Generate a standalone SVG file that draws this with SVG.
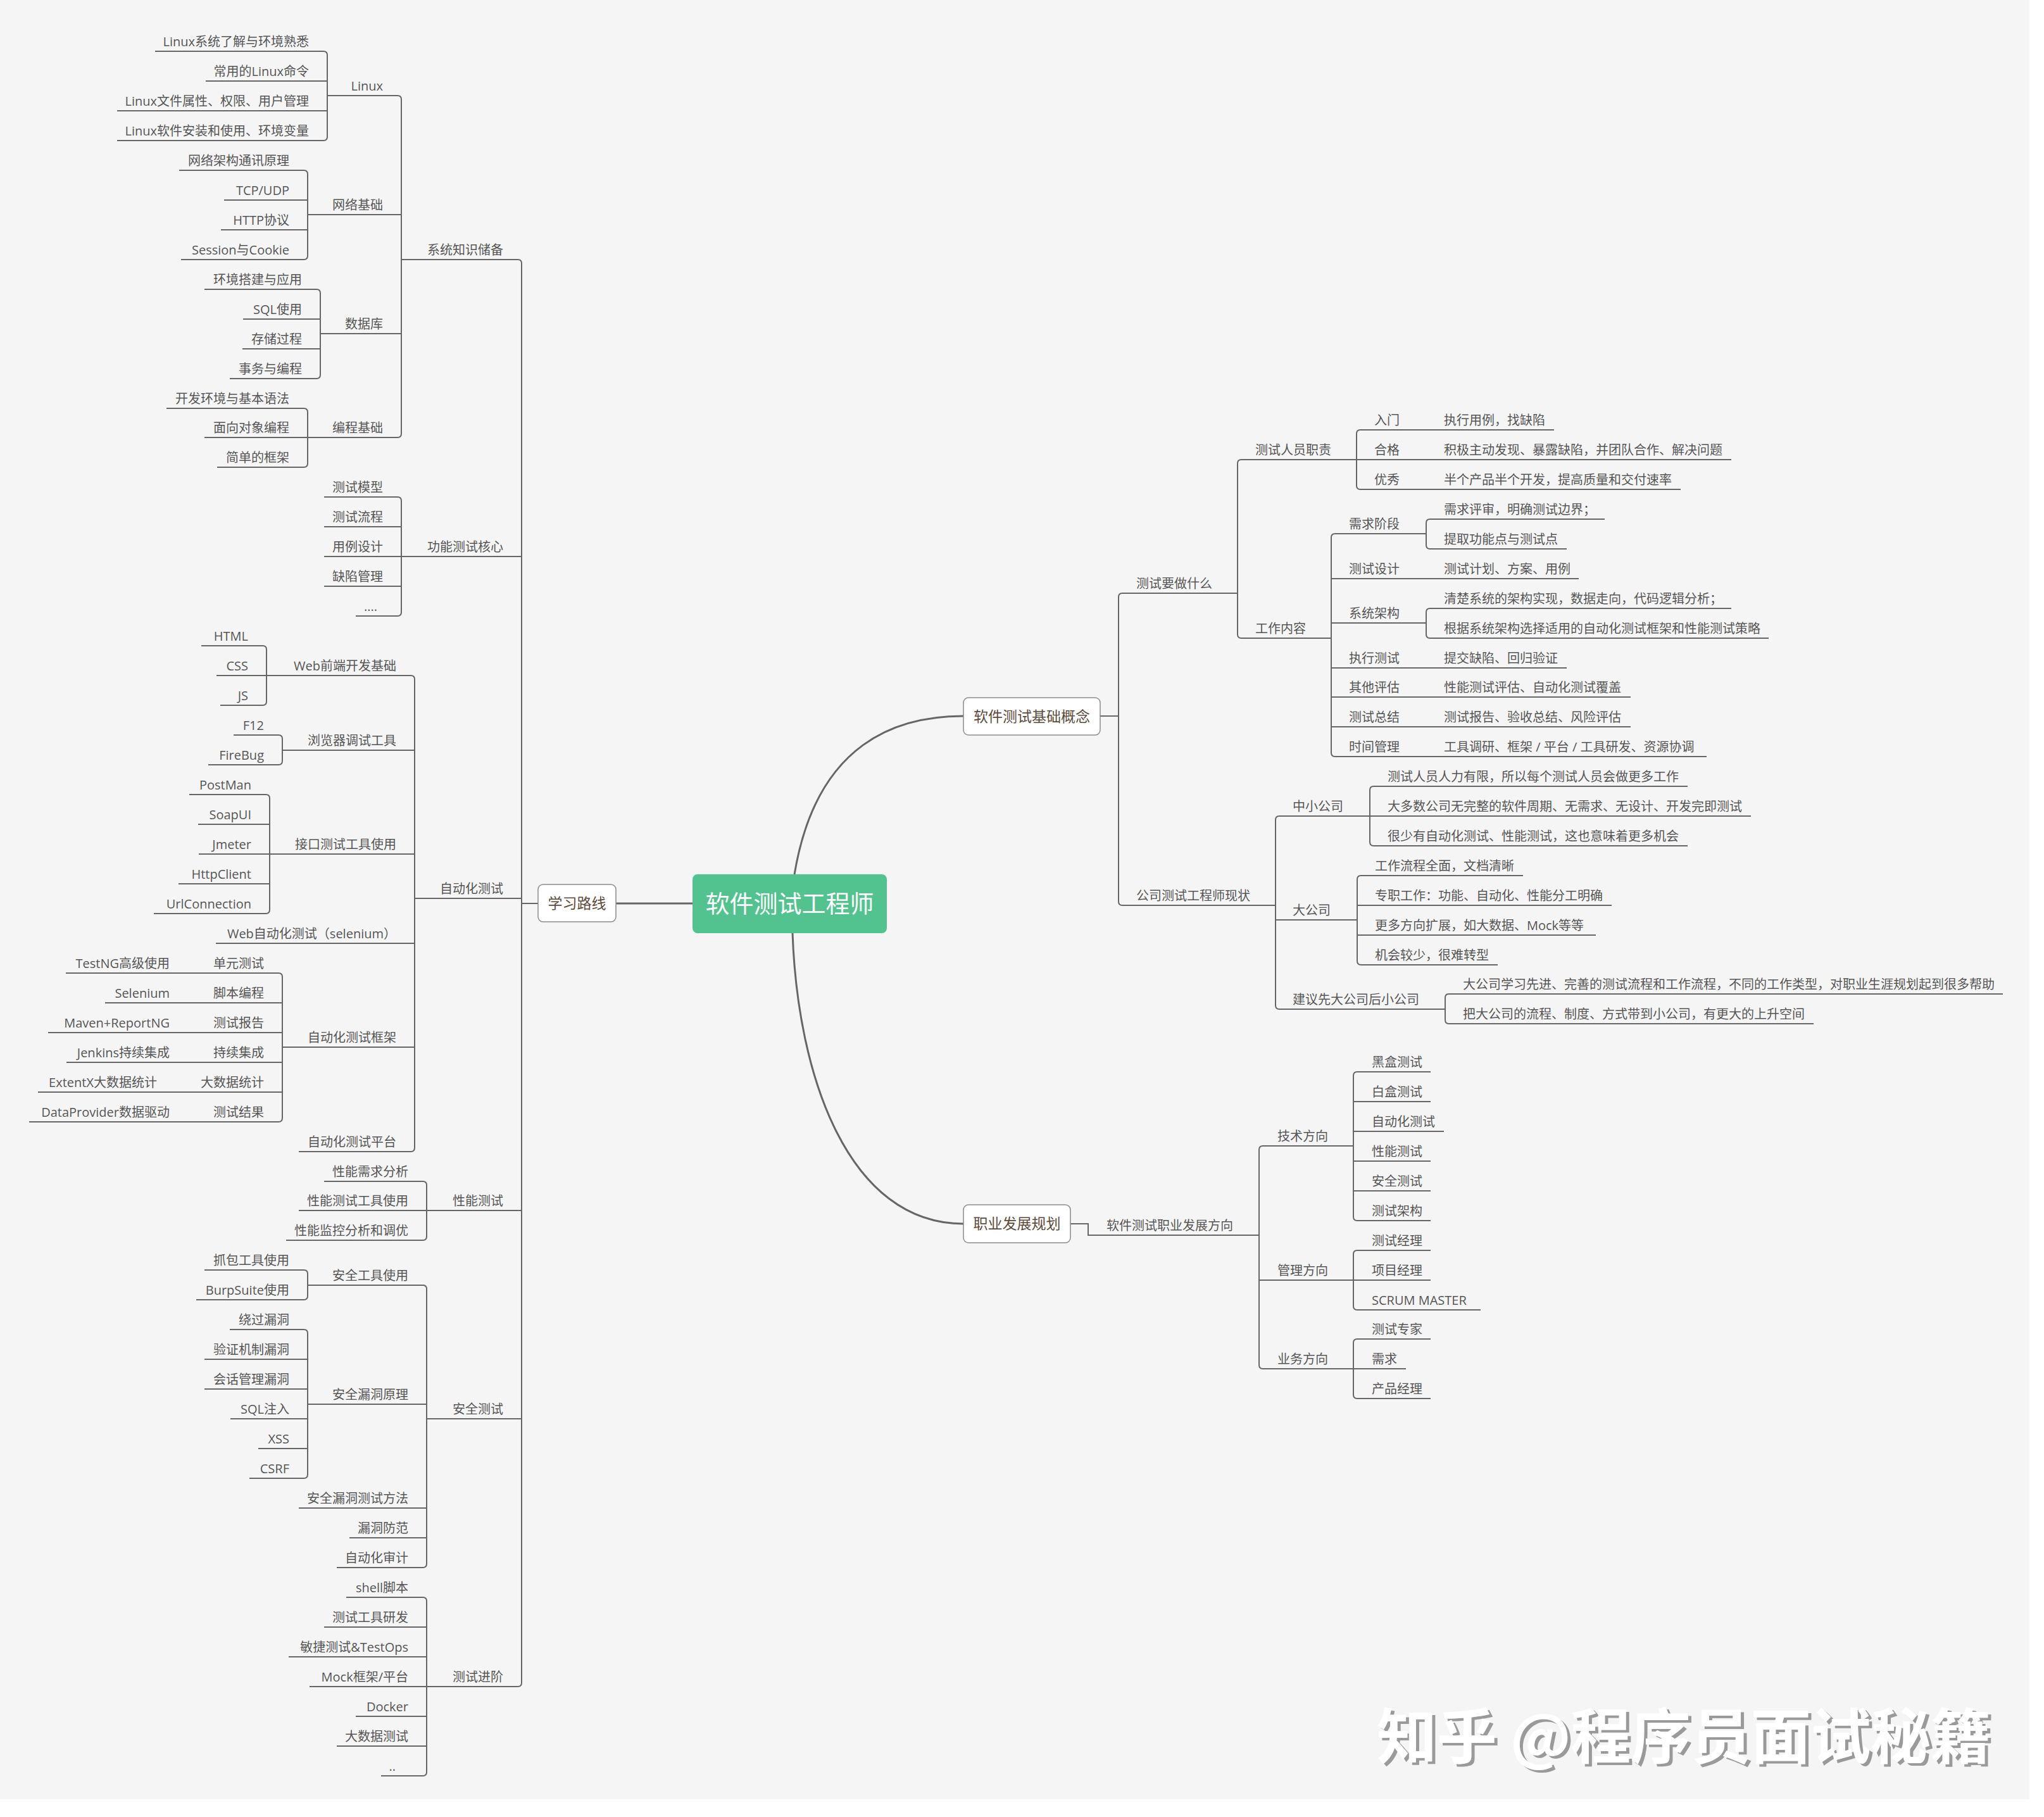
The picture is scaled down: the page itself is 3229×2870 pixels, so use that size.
<svg xmlns="http://www.w3.org/2000/svg" width="3229" height="2870" viewBox="0 0 3229 2870">
<defs>
<style>
.ln{fill:none;stroke:#666;stroke-width:2}
.thick{fill:none;stroke:#666;stroke-width:3}
.t{font-family:"Open Sans","Noto Sans CJK SC",sans-serif;font-size:20px;fill:#555}
.l{text-anchor:end}
.box{fill:#fff;stroke:#8c8c8c;stroke-width:1.5}
.mt{font-family:"Noto Sans CJK SC",sans-serif;font-size:23px;fill:#5e4b3c;text-anchor:middle}
</style>
<filter id="sh" x="-5%" y="-20%" width="110%" height="140%">
<feDropShadow dx="5" dy="4" stdDeviation="0.5" flood-color="#9a9a9a" flood-opacity="1"/>
</filter>
</defs>
<rect x="0" y="0" width="3229" height="2870" fill="#ffffff"/>
<rect x="0" y="0" width="3206" height="2842" fill="#f5f5f5"/>

<g id="connectors">
<path class="ln" d="M245,81H511Q517,81 517,87V216Q517,222 511,222H185M325,128H517M185,175H517"/>
<path class="ln" d="M283,269H480Q486,269 486,275V404Q486,410 480,410H286M354,316H486M349,363H486"/>
<path class="ln" d="M323,457H500Q506,457 506,463V592Q506,598 500,598H363M384,504H506M383,551H506"/>
<path class="ln" d="M263,645H480Q486,645 486,651V732Q486,738 480,738H343M323,691H486"/>
<path class="ln" d="M517,151H628Q634,151 634,157V685Q634,691 628,691H486M486,339H634M506,527H634"/>
<path class="ln" d="M512,785H628Q634,785 634,791V967Q634,973 628,973H562M512,832H634M512,879H634M512,926H634"/>
<path class="ln" d="M318,1020H415Q421,1020 421,1026V1108Q421,1114 415,1114H348M342,1067H421"/>
<path class="ln" d="M369,1161H440Q446,1161 446,1167V1202Q446,1208 440,1208H329"/>
<path class="ln" d="M299,1255H420Q426,1255 426,1261V1437Q426,1443 420,1443H243M313,1302H426M314,1349H426M282,1396H426"/>
<path class="ln" d="M104,1537H440Q446,1537 446,1543V1766Q446,1772 440,1772H46M166,1584H446M76,1631H446M105,1678H446M60,1725H446"/>
<path class="ln" d="M421,1067H649Q655,1067 655,1073V1813Q655,1819 649,1819H472M446,1185H655M426,1349H655M341,1490H655M446,1654H655"/>
<path class="ln" d="M512,1866H668Q674,1866 674,1872V1953Q674,1959 668,1959H452M472,1912H674"/>
<path class="ln" d="M323,2006H480Q486,2006 486,2012V2047Q486,2053 480,2053H310"/>
<path class="ln" d="M363,2100H480Q486,2100 486,2106V2329Q486,2335 480,2335H394M323,2147H486M323,2194H486M364,2241H486M408,2288H486"/>
<path class="ln" d="M486,2030H668Q674,2030 674,2036V2470Q674,2476 668,2476H532M486,2218H674M472,2382H674M552,2429H674"/>
<path class="ln" d="M547,2523H668Q674,2523 674,2529V2799Q674,2805 668,2805H602M512,2570H674M456,2617H674M489,2664H674M562,2711H674M532,2758H674"/>
<path class="ln" d="M634,410H818Q824,410 824,416V2658Q824,2664 818,2664H674M634,879H824M655,1419H824M674,1912H824M674,2241H824M824,1427H850"/>
<path class="thick" d="M973,1427H1094"/>
<path class="thick" d="M1255,1381C1290,1170 1420,1131 1522,1131"/>
<path class="thick" d="M1252,1474C1260,1700 1340,1933 1522,1933"/>
<path class="ln" d="M1738,1131H1767M1955,937H1773Q1767,937 1767,943V1424Q1767,1430 1773,1430H2015"/>
<path class="ln" d="M2143,726H1961Q1955,726 1955,732V1002Q1955,1008 1961,1008H2103"/>
<path class="ln" d="M2455,679H2149Q2143,679 2143,685V767Q2143,773 2149,773H2655M2143,726H2735"/>
<path class="ln" d="M2253,843H2109Q2103,843 2103,849V1189Q2103,1195 2109,1195H2696M2103,914H2494M2103,984H2253M2103,1055H2475M2103,1101H2576M2103,1148H2576"/>
<path class="ln" d="M2535,820H2259Q2253,820 2253,826V861Q2253,867 2259,867H2475"/>
<path class="ln" d="M2735,961H2259Q2253,961 2253,967V1002Q2253,1008 2259,1008H2794"/>
<path class="ln" d="M2164,1289H2021Q2015,1289 2015,1295V1588Q2015,1594 2021,1594H2283M2015,1453H2144"/>
<path class="ln" d="M2666,1242H2170Q2164,1242 2164,1248V1330Q2164,1336 2170,1336H2666M2164,1289H2766"/>
<path class="ln" d="M2406,1383H2150Q2144,1383 2144,1389V1518Q2144,1524 2150,1524H2366M2144,1430H2546M2144,1477H2521"/>
<path class="ln" d="M3164,1570H2289Q2283,1570 2283,1576V1611Q2283,1617 2289,1617H2865"/>
<path class="ln" d="M1691,1933H1719V1951H1989"/>
<path class="ln" d="M2138,1810H1995Q1989,1810 1989,1816V2156Q1989,2162 1995,2162H2138M1989,2022H2138"/>
<path class="ln" d="M2260,1693H2144Q2138,1693 2138,1699V1922Q2138,1928 2144,1928H2260M2138,1740H2260M2138,1787H2281M2138,1834H2260M2138,1881H2260"/>
<path class="ln" d="M2260,1975H2144Q2138,1975 2138,1981V2063Q2138,2069 2144,2069H2339M2138,2022H2260"/>
<path class="ln" d="M2260,2115H2144Q2138,2115 2138,2121V2203Q2138,2209 2144,2209H2260M2138,2162H2221"/>
</g>

<g id="center"><rect x="1094" y="1381" width="307" height="93" rx="8" fill="#52c38e"/><text x="1247.5" y="1441" font-family="Noto Sans CJK SC, sans-serif" font-size="38" fill="#ffffff" text-anchor="middle">软件测试工程师</text></g>
<g id="n-xuexi"><rect class="box" x="850" y="1397" width="123" height="59" rx="8"/><text class="mt" x="911.5" y="1435">学习路线</text></g>
<g id="n-gainian"><rect class="box" x="1522" y="1102" width="216" height="59" rx="8"/><text class="mt" x="1630" y="1140">软件测试基础概念</text></g>
<g id="n-zhiye"><rect class="box" x="1522" y="1903" width="169" height="60" rx="8"/><text class="mt" x="1606.5" y="1941">职业发展规划</text></g>

<g id="n-l1"><text class="t l" x="488" y="73">Linux系统了解与环境熟悉</text></g>
<g id="n-l2"><text class="t l" x="488" y="120">常用的Linux命令</text></g>
<g id="n-l3"><text class="t l" x="488" y="167">Linux文件属性、权限、用户管理</text></g>
<g id="n-l4"><text class="t l" x="488" y="214">Linux软件安装和使用、环境变量</text></g>
<g id="n-w1"><text class="t l" x="457" y="261">网络架构通讯原理</text></g>
<g id="n-w2"><text class="t l" x="457" y="308">TCP/UDP</text></g>
<g id="n-w3"><text class="t l" x="457" y="355">HTTP协议</text></g>
<g id="n-w4"><text class="t l" x="457" y="402">Session与Cookie</text></g>
<g id="n-d1"><text class="t l" x="477" y="449">环境搭建与应用</text></g>
<g id="n-d2"><text class="t l" x="477" y="496">SQL使用</text></g>
<g id="n-d3"><text class="t l" x="477" y="543">存储过程</text></g>
<g id="n-d4"><text class="t l" x="477" y="590">事务与编程</text></g>
<g id="n-b1"><text class="t l" x="457" y="637">开发环境与基本语法</text></g>
<g id="n-b2"><text class="t l" x="457" y="683">面向对象编程</text></g>
<g id="n-b3"><text class="t l" x="457" y="730">简单的框架</text></g>
<g id="n-linux"><text class="t l" x="605" y="143">Linux</text></g>
<g id="n-wangluo"><text class="t l" x="605" y="331">网络基础</text></g>
<g id="n-shujuku"><text class="t l" x="605" y="519">数据库</text></g>
<g id="n-biancheng"><text class="t l" x="605" y="683">编程基础</text></g>
<g id="n-xitong"><text class="t l" x="795" y="402">系统知识储备</text></g>
<g id="n-g1"><text class="t l" x="605" y="777">测试模型</text></g>
<g id="n-g2"><text class="t l" x="605" y="824">测试流程</text></g>
<g id="n-g3"><text class="t l" x="605" y="871">用例设计</text></g>
<g id="n-g4"><text class="t l" x="605" y="918">缺陷管理</text></g>
<g id="n-g5"><text class="t l" x="596" y="965">....</text></g>
<g id="n-gongneng"><text class="t l" x="795" y="871">功能测试核心</text></g>
<g id="n-h1"><text class="t l" x="392" y="1012">HTML</text></g>
<g id="n-h2"><text class="t l" x="392" y="1059">CSS</text></g>
<g id="n-h3"><text class="t l" x="392" y="1106">JS</text></g>
<g id="n-f1"><text class="t l" x="417" y="1153">F12</text></g>
<g id="n-f2"><text class="t l" x="417" y="1200">FireBug</text></g>
<g id="n-i1"><text class="t l" x="397" y="1247">PostMan</text></g>
<g id="n-i2"><text class="t l" x="397" y="1294">SoapUI</text></g>
<g id="n-i3"><text class="t l" x="397" y="1341">Jmeter</text></g>
<g id="n-i4"><text class="t l" x="397" y="1388">HttpClient</text></g>
<g id="n-i5"><text class="t l" x="397" y="1435">UrlConnection</text></g>
<g id="n-webqd"><text class="t l" x="626" y="1059">Web前端开发基础</text></g>
<g id="n-llq"><text class="t l" x="626" y="1177">浏览器调试工具</text></g>
<g id="n-jiekou"><text class="t l" x="626" y="1341">接口测试工具使用</text></g>
<g id="n-webzdh"><text class="t l" x="626" y="1482">Web自动化测试（selenium）</text></g>
<g id="n-kuangjia"><text class="t l" x="626" y="1646">自动化测试框架</text></g>
<g id="n-pingtai"><text class="t l" x="626" y="1811">自动化测试平台</text></g>
<g id="n-k1"><text class="t l" x="417" y="1529">单元测试</text></g>
<g id="n-k1a"><text class="t l" x="268" y="1529">TestNG高级使用</text></g>
<g id="n-k2"><text class="t l" x="417" y="1576">脚本编程</text></g>
<g id="n-k2a"><text class="t l" x="268" y="1576">Selenium</text></g>
<g id="n-k3"><text class="t l" x="417" y="1623">测试报告</text></g>
<g id="n-k3a"><text class="t l" x="268" y="1623">Maven+ReportNG</text></g>
<g id="n-k4"><text class="t l" x="417" y="1670">持续集成</text></g>
<g id="n-k4a"><text class="t l" x="268" y="1670">Jenkins持续集成</text></g>
<g id="n-k5"><text class="t l" x="417" y="1717">大数据统计</text></g>
<g id="n-k5a"><text class="t l" x="248" y="1717">ExtentX大数据统计</text></g>
<g id="n-k6"><text class="t l" x="417" y="1764">测试结果</text></g>
<g id="n-k6a"><text class="t l" x="268" y="1764">DataProvider数据驱动</text></g>
<g id="n-zidonghua"><text class="t l" x="795" y="1411">自动化测试</text></g>
<g id="n-x1"><text class="t l" x="645" y="1858">性能需求分析</text></g>
<g id="n-x2"><text class="t l" x="645" y="1904">性能测试工具使用</text></g>
<g id="n-x3"><text class="t l" x="645" y="1951">性能监控分析和调优</text></g>
<g id="n-xingneng"><text class="t l" x="795" y="1904">性能测试</text></g>
<g id="n-a1"><text class="t l" x="457" y="1998">抓包工具使用</text></g>
<g id="n-a2"><text class="t l" x="457" y="2045">BurpSuite使用</text></g>
<g id="n-a3"><text class="t l" x="457" y="2092">绕过漏洞</text></g>
<g id="n-a4"><text class="t l" x="457" y="2139">验证机制漏洞</text></g>
<g id="n-a5"><text class="t l" x="457" y="2186">会话管理漏洞</text></g>
<g id="n-a6"><text class="t l" x="457" y="2233">SQL注入</text></g>
<g id="n-a7"><text class="t l" x="457" y="2280">XSS</text></g>
<g id="n-a8"><text class="t l" x="457" y="2327">CSRF</text></g>
<g id="n-aqgj"><text class="t l" x="645" y="2022">安全工具使用</text></g>
<g id="n-aqld"><text class="t l" x="645" y="2210">安全漏洞原理</text></g>
<g id="n-a9"><text class="t l" x="645" y="2374">安全漏洞测试方法</text></g>
<g id="n-a10"><text class="t l" x="645" y="2421">漏洞防范</text></g>
<g id="n-a11"><text class="t l" x="645" y="2468">自动化审计</text></g>
<g id="n-anquan"><text class="t l" x="795" y="2233">安全测试</text></g>
<g id="n-j1"><text class="t l" x="645" y="2515">shell脚本</text></g>
<g id="n-j2"><text class="t l" x="645" y="2562">测试工具研发</text></g>
<g id="n-j3"><text class="t l" x="645" y="2609">敏捷测试&amp;TestOps</text></g>
<g id="n-j4"><text class="t l" x="645" y="2656">Mock框架/平台</text></g>
<g id="n-j5"><text class="t l" x="645" y="2703">Docker</text></g>
<g id="n-j6"><text class="t l" x="645" y="2750">大数据测试</text></g>
<g id="n-j7"><text class="t l" x="625" y="2797">..</text></g>
<g id="n-jinjie"><text class="t l" x="795" y="2656">测试进阶</text></g>

<g id="n-zuoshenme"><text class="t" x="1795" y="929">测试要做什么</text></g>
<g id="n-zhize"><text class="t" x="1983" y="718">测试人员职责</text></g>
<g id="n-rumen"><text class="t" x="2171" y="671">入门</text></g>
<g id="n-rumen1"><text class="t" x="2281" y="671">执行用例，找缺陷</text></g>
<g id="n-hege"><text class="t" x="2171" y="718">合格</text></g>
<g id="n-hege1"><text class="t" x="2281" y="718">积极主动发现、暴露缺陷，并团队合作、解决问题</text></g>
<g id="n-youxiu"><text class="t" x="2171" y="765">优秀</text></g>
<g id="n-youxiu1"><text class="t" x="2281" y="765">半个产品半个开发，提高质量和交付速率</text></g>
<g id="n-gznr"><text class="t" x="1983" y="1000">工作内容</text></g>
<g id="n-xqjd"><text class="t" x="2131" y="835">需求阶段</text></g>
<g id="n-xqjd1"><text class="t" x="2281" y="812">需求评审，明确测试边界；</text></g>
<g id="n-xqjd2"><text class="t" x="2281" y="859">提取功能点与测试点</text></g>
<g id="n-cssj"><text class="t" x="2131" y="906">测试设计</text></g>
<g id="n-cssj1"><text class="t" x="2281" y="906">测试计划、方案、用例</text></g>
<g id="n-xtjg"><text class="t" x="2131" y="976">系统架构</text></g>
<g id="n-xtjg1"><text class="t" x="2281" y="953">清楚系统的架构实现，数据走向，代码逻辑分析；</text></g>
<g id="n-xtjg2"><text class="t" x="2281" y="1000">根据系统架构选择适用的自动化测试框架和性能测试策略</text></g>
<g id="n-zxcs"><text class="t" x="2131" y="1047">执行测试</text></g>
<g id="n-zxcs1"><text class="t" x="2281" y="1047">提交缺陷、回归验证</text></g>
<g id="n-qtpg"><text class="t" x="2131" y="1093">其他评估</text></g>
<g id="n-qtpg1"><text class="t" x="2281" y="1093">性能测试评估、自动化测试覆盖</text></g>
<g id="n-cszj"><text class="t" x="2131" y="1140">测试总结</text></g>
<g id="n-cszj1"><text class="t" x="2281" y="1140">测试报告、验收总结、风险评估</text></g>
<g id="n-sjgl"><text class="t" x="2131" y="1187">时间管理</text></g>
<g id="n-sjgl1"><text class="t" x="2281" y="1187">工具调研、框架 / 平台 / 工具研发、资源协调</text></g>
<g id="n-xianzhuang"><text class="t" x="1795" y="1422">公司测试工程师现状</text></g>
<g id="n-zxgs"><text class="t" x="2042" y="1281">中小公司</text></g>
<g id="n-zxgs1"><text class="t" x="2192" y="1234">测试人员人力有限，所以每个测试人员会做更多工作</text></g>
<g id="n-zxgs2"><text class="t" x="2192" y="1281">大多数公司无完整的软件周期、无需求、无设计、开发完即测试</text></g>
<g id="n-zxgs3"><text class="t" x="2192" y="1328">很少有自动化测试、性能测试，这也意味着更多机会</text></g>
<g id="n-dgs"><text class="t" x="2042" y="1445">大公司</text></g>
<g id="n-dgs1"><text class="t" x="2172" y="1375">工作流程全面，文档清晰</text></g>
<g id="n-dgs2"><text class="t" x="2172" y="1422">专职工作：功能、自动化、性能分工明确</text></g>
<g id="n-dgs3"><text class="t" x="2172" y="1469">更多方向扩展，如大数据、Mock等等</text></g>
<g id="n-dgs4"><text class="t" x="2172" y="1516">机会较少，很难转型</text></g>
<g id="n-jianyi"><text class="t" x="2042" y="1586">建议先大公司后小公司</text></g>
<g id="n-jianyi1"><text class="t" x="2311" y="1562">大公司学习先进、完善的测试流程和工作流程，不同的工作类型，对职业生涯规划起到很多帮助</text></g>
<g id="n-jianyi2"><text class="t" x="2311" y="1609">把大公司的流程、制度、方式带到小公司，有更大的上升空间</text></g>

<g id="n-fangxiang"><text class="t" x="1748" y="1943">软件测试职业发展方向</text></g>
<g id="n-jishu"><text class="t" x="2018" y="1802">技术方向</text></g>
<g id="n-guanli"><text class="t" x="2018" y="2014">管理方向</text></g>
<g id="n-yewu"><text class="t" x="2018" y="2154">业务方向</text></g>
<g id="n-t1"><text class="t" x="2167" y="1685">黑盒测试</text></g>
<g id="n-t2"><text class="t" x="2167" y="1732">白盒测试</text></g>
<g id="n-t3"><text class="t" x="2167" y="1779">自动化测试</text></g>
<g id="n-t4"><text class="t" x="2167" y="1826">性能测试</text></g>
<g id="n-t5"><text class="t" x="2167" y="1873">安全测试</text></g>
<g id="n-t6"><text class="t" x="2167" y="1920">测试架构</text></g>
<g id="n-m1"><text class="t" x="2167" y="1967">测试经理</text></g>
<g id="n-m2"><text class="t" x="2167" y="2014">项目经理</text></g>
<g id="n-m3"><text class="t" x="2167" y="2061">SCRUM MASTER</text></g>
<g id="n-y1"><text class="t" x="2167" y="2107">测试专家</text></g>
<g id="n-y2"><text class="t" x="2167" y="2154">需求</text></g>
<g id="n-y3"><text class="t" x="2167" y="2201">产品经理</text></g>

<g id="watermark"><text x="2175" y="2778" font-family="Noto Sans CJK SC, sans-serif" font-size="95" font-weight="700" fill="#ffffff" textLength="970" lengthAdjust="spacing" filter="url(#sh)">知乎 @程序员面试秘籍</text></g>
</svg>
